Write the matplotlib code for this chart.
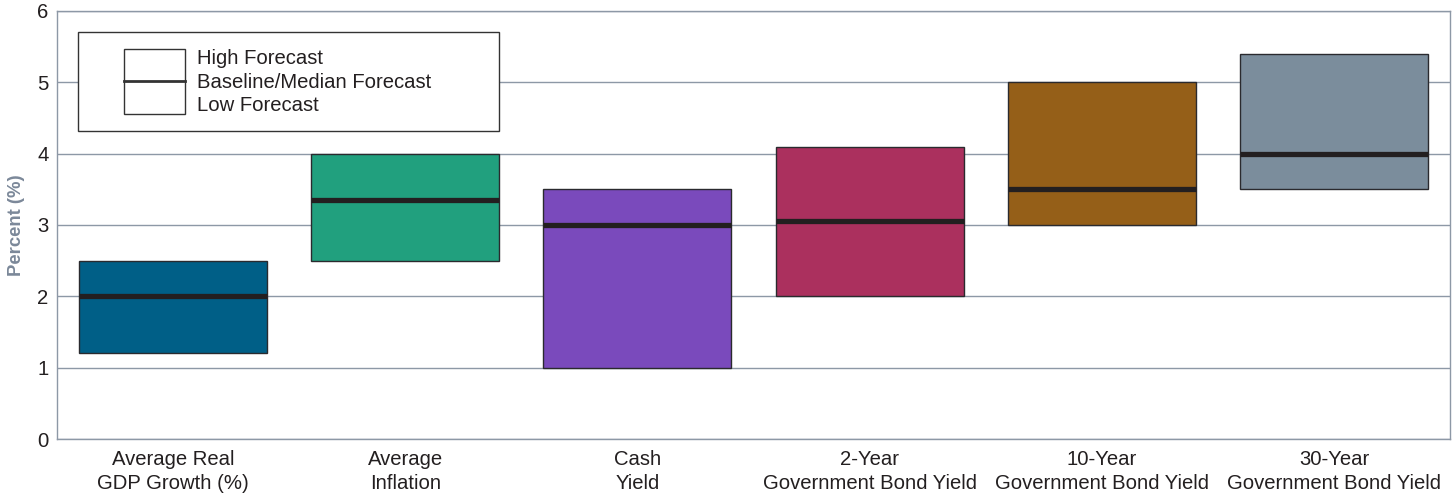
import matplotlib.pyplot as plt
from matplotlib.patches import Rectangle
from matplotlib.lines import Line2D

plt.rcParams['font.family'] = ['Liberation Sans', 'DejaVu Sans']

# Forecast ranges per category
categories = ["Average Real\nGDP Growth (%)", "Average\nInflation", "Cash\nYield",
              "2-Year\nGovernment Bond Yield", "10-Year\nGovernment Bond Yield",
              "30-Year\nGovernment Bond Yield"]
low = [1.2, 2.5, 1.0, 2.0, 3.0, 3.5]
high = [2.5, 4.0, 3.5, 4.1, 5.0, 5.4]
median = [2.0, 3.35, 3.0, 3.05, 3.5, 4.0]
colors = ["#005f87", "#21a07e", "#7a4abc", "#ab305e", "#955f18", "#7b8d9c"]

grid_col = "#8d98a6"
edge_col = "#2a2a2e"
fs = 14.6

fig = plt.figure(figsize=(14.55, 4.94), dpi=100)
ax = fig.add_axes([57 / 1455, 55 / 494, 1393 / 1455, 428 / 494])

x = range(len(categories))
w = 0.81
heights = [h - l for h, l in zip(high, low)]
ax.bar(x, heights, bottom=low, width=w, color=colors, edgecolor=edge_col,
       linewidth=1.0, zorder=3)
for i, m in enumerate(median):
    ax.plot([i - w / 2, i + w / 2], [m, m], color="#231f20", lw=3.8,
            solid_capstyle='butt', zorder=4)

ax.set_xlim(-0.5, len(categories) - 0.5)
ax.set_ylim(0, 6)
ax.set_yticks(range(0, 7))
ax.set_xticks(list(x))
ax.set_xticklabels(categories, fontsize=fs, color="#231f20", linespacing=1.3)
ax.tick_params(axis='both', length=0, labelsize=fs, labelcolor="#231f20")
ax.tick_params(axis='x', pad=8)
ax.tick_params(axis='y', pad=6)
ax.yaxis.grid(True, color=grid_col, lw=1.0, zorder=0)
for s in ax.spines.values():
    s.set_color(grid_col)
    s.set_linewidth(1.0)
ax.set_ylabel("Percent (%)", fontsize=13.3, fontweight='bold', color="#7b8899",
              labelpad=9)

# Legend drawn by hand: one key box with a median line
tr = ax.transAxes
ax.add_patch(Rectangle((0.0151, 0.720), 0.302, 0.231, transform=tr,
                       facecolor='white', edgecolor="#333333", lw=1.0, zorder=5))
ax.add_patch(Rectangle((0.048, 0.759), 0.044, 0.152, transform=tr,
                       facecolor='white', edgecolor="#333333", lw=1.0, zorder=6))
ax.add_line(Line2D([0.048, 0.092], [0.836, 0.836], transform=tr,
                   color="#333333", lw=2.0, zorder=7))
for ty, txt in zip([0.888, 0.834, 0.780],
                   ["High Forecast", "Baseline/Median Forecast", "Low Forecast"]):
    ax.text(0.1005, ty, txt, transform=tr, fontsize=fs, color="#231f20",
            va='center', ha='left', zorder=7)

fig.savefig("out.png", dpi=100)
